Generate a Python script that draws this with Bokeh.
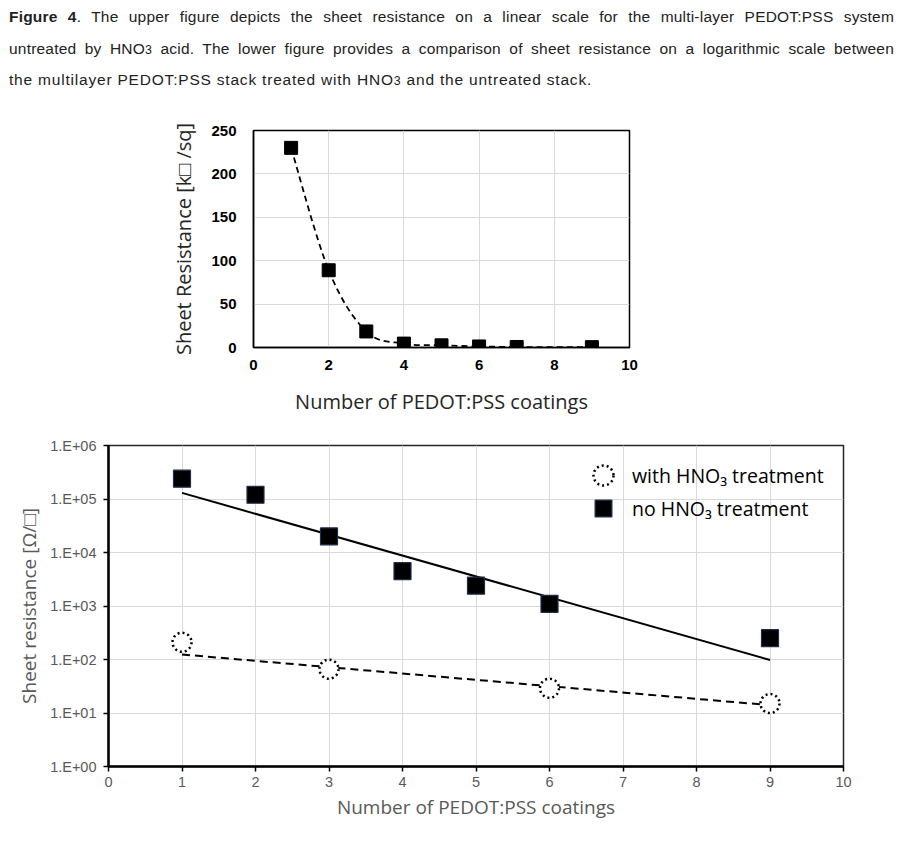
import numpy as np
from bokeh.plotting import figure
from bokeh.models import (Div, Legend, LegendItem, FixedTicker, Range1d,
                          CustomJSTickFormatter, Spacer)
from bokeh.layouts import column, row
from bokeh.embed import file_html
from bokeh.resources import INLINE

# ---------------- data ----------------
# upper panel (linear scale, untreated stack), sheet resistance in kOhm/sq
coats_upper = [1, 2, 3, 4, 5, 6, 7, 9]
rs_upper_k = [230, 89, 18.5, 4.5, 2.5, 1.2, 0.6, 0.4]
upper_xticks = [0, 2, 4, 6, 8, 10]
upper_yticks = [0, 50, 100, 150, 200, 250]

# lower panel (log scale), sheet resistance in Ohm/sq
coats_no = [1, 2, 3, 4, 5, 6, 9]
rs_no = [2.4e5, 1.2e5, 2.0e4, 4.5e3, 2.4e3, 1.1e3, 2.5e2]
coats_with = [1, 3, 6, 9]
rs_with = [210, 66, 29, 15]
# exponential trend lines (end points)
trend_no_x = [1, 9]
trend_no_y = [1.3e5, 98]
trend_with_x = [1, 9]
trend_with_y = [124, 14]
lower_xticks = [0, 1, 2, 3, 4, 5, 6, 7, 8, 9, 10]
lower_yticks = [1, 10, 100, 1e3, 1e4, 1e5, 1e6]

label_no = "no HNO\u2083 treatment"
label_with = "with HNO\u2083 treatment"

GRID = "#d9d9d9"
GRAY = "#595959"

# ---------------- caption ----------------
line_style = ("text-align:justify; text-align-last:justify; letter-spacing:0.2px; "
              "height:31.5px; line-height:31.5px; white-space:normal;")
caption_html = f"""
<div style="font-family:'Liberation Sans',Arial,sans-serif;
            font-size:15.5px; color:#222; width:885px; margin-top:1px; margin-left:9px;">
  <div style="{line_style}"><b>Figure 4</b>. The upper figure depicts the sheet resistance on a linear scale for the multi-layer PEDOT:PSS system</div>
  <div style="{line_style}">untreated by HNO<span style="font-size:80%">3</span> acid. The lower figure provides a comparison of sheet resistance on a logarithmic scale between</div>
  <div style="height:31.5px; line-height:31.5px; letter-spacing:0.8px;">the multilayer PEDOT:PSS stack treated with HNO<span style="font-size:80%">3</span> and the untreated stack.</div>
</div>
"""
caption = Div(text=caption_html, width=900, height=100, margin=(0, 0, 0, 0))

# ---------------- upper figure ----------------
p1 = figure(frame_width=376, frame_height=217,
            min_border_left=108, min_border_right=45,
            min_border_top=30, min_border_bottom=78,
            x_range=Range1d(0, 10), y_range=Range1d(0, 250),
            output_backend="svg", toolbar_location=None)
p1.background_fill_color = "white"
p1.border_fill_color = "white"
p1.outline_line_color = "black"
p1.outline_line_width = 1.5

for ax in (p1.xaxis[0], p1.yaxis[0]):
    ax.axis_line_color = "black"
    ax.axis_line_width = 1.5
    ax.major_tick_line_color = None
    ax.major_tick_in = 0
    ax.major_tick_out = 0
    ax.minor_tick_line_color = None
    ax.major_label_text_font = "Liberation Sans"
    ax.major_label_text_font_style = "bold"
    ax.major_label_text_font_size = "15px"
    ax.major_label_text_color = "black"
    ax.axis_label_text_font = "Open Sans"
    ax.axis_label_text_font_style = "normal"
    ax.axis_label_text_font_size = "20px"
    ax.axis_label_text_color = "#262626"

p1.xaxis.ticker = FixedTicker(ticks=upper_xticks)
p1.yaxis.ticker = FixedTicker(ticks=upper_yticks)
p1.xaxis.major_label_standoff = 12
p1.yaxis.major_label_standoff = 17
p1.xaxis.axis_label = "Number of PEDOT:PSS coatings"
p1.yaxis.axis_label = "Sheet Resistance [k\u25a1 /sq]"
p1.xaxis.axis_label_standoff = 15
p1.yaxis.axis_label_standoff = 11
p1.xgrid.grid_line_color = GRID
p1.ygrid.grid_line_color = GRID
p1.xgrid.ticker = FixedTicker(ticks=upper_xticks)
p1.ygrid.ticker = FixedTicker(ticks=upper_yticks)

# smoothed dashed connector (Catmull-Rom style Bezier through the data)
xu = np.array(coats_upper, dtype=float)
yu = np.array(rs_upper_k, dtype=float)
n = len(xu)
x0, y0, x1, y1, cx0, cy0, cx1, cy1 = [], [], [], [], [], [], [], []
for i in range(n - 1):
    im = max(i - 1, 0)
    ip2 = min(i + 2, n - 1)
    x0.append(xu[i]); y0.append(yu[i])
    x1.append(xu[i + 1]); y1.append(yu[i + 1])
    cx0.append(xu[i] + (xu[i + 1] - xu[im]) / 6.0)
    cy0.append(yu[i] + (yu[i + 1] - yu[im]) / 6.0)
    cx1.append(xu[i + 1] - (xu[ip2] - xu[i]) / 6.0)
    cy1.append(yu[i + 1] - (yu[ip2] - yu[i]) / 6.0)
p1.bezier(x0=x0, y0=y0, x1=x1, y1=y1, cx0=cx0, cy0=cy0, cx1=cx1, cy1=cy1,
          line_color="black", line_width=1.8, line_dash="6 4")
p1.scatter(coats_upper, rs_upper_k, marker="square", size=13,
           fill_color="black", line_color="black")

# ---------------- lower figure ----------------
p2 = figure(frame_width=735, frame_height=321,
            min_border_left=108, min_border_right=45,
            min_border_top=20, min_border_bottom=59,
            x_range=Range1d(0, 10), y_range=Range1d(1, 1e6),
            y_axis_type="log",
            output_backend="svg", toolbar_location=None)
p2.background_fill_color = "white"
p2.border_fill_color = "white"
p2.outline_line_color = "#262626"
p2.outline_line_width = 1.5

for ax in (p2.xaxis[0], p2.yaxis[0]):
    ax.axis_line_color = "black"
    ax.axis_line_width = 2.5
    ax.major_tick_line_color = "black"
    ax.major_tick_line_width = 1.5
    ax.major_tick_in = 0
    ax.major_tick_out = 5
    ax.minor_tick_line_color = None
    ax.major_label_text_font = "Liberation Sans"
    ax.major_label_text_font_size = "14.5px"
    ax.major_label_text_color = GRAY
    ax.axis_label_text_font = "Open Sans"
    ax.axis_label_text_font_style = "normal"
    ax.axis_label_text_font_size = "19px"
    ax.axis_label_text_color = GRAY

p2.xaxis.ticker = FixedTicker(ticks=lower_xticks)
p2.yaxis.ticker = FixedTicker(ticks=lower_yticks)
p2.yaxis.formatter = CustomJSTickFormatter(code="""
    const e = Math.round(Math.log10(tick));
    const s = String(Math.abs(e)).padStart(2, '0');
    return '1.E' + (e < 0 ? '-' : '+') + s;
""")
p2.xaxis.major_label_standoff = 5
p2.yaxis.major_label_standoff = 7
p2.xaxis.axis_label = "Number of PEDOT:PSS coatings"
p2.yaxis.axis_label = "Sheet resistance [\u03a9/\u25a1]"
p2.xaxis.axis_label_standoff = 4
p2.yaxis.axis_label_standoff = 5
p2.xgrid.grid_line_color = GRID
p2.ygrid.grid_line_color = GRID
p2.xgrid.ticker = FixedTicker(ticks=lower_xticks)
p2.ygrid.ticker = FixedTicker(ticks=lower_yticks)

p2.line(trend_no_x, trend_no_y, line_color="black", line_width=2)
p2.line(trend_with_x, trend_with_y, line_color="black", line_width=2,
        line_dash="8 5")
r_with = p2.scatter(coats_with, rs_with, marker="circle", size=19,
                    fill_color="white", line_color="black", line_width=2.5,
                    line_dash="2 3")
r_no = p2.scatter(coats_no, rs_no, marker="square", size=17,
                  fill_color="black", line_color="#1f2d4d", line_width=1.2)

common = dict(border_line_alpha=0, background_fill_alpha=0, padding=0,
              margin=0, label_text_font="Open Sans",
              label_text_font_size="19.5px", label_text_color="black")
leg1 = Legend(items=[LegendItem(label=label_with, renderers=[r_with])],
              location=(470, 266), glyph_width=50, glyph_height=50,
              label_standoff=4, label_height=50, **common)
leg2 = Legend(items=[LegendItem(label=label_no, renderers=[r_no])],
              location=(474, 237), glyph_width=42, glyph_height=42,
              label_standoff=8, label_height=42, **common)
p2.add_layout(leg1)
p2.add_layout(leg2)

layout = column(caption, row(Spacer(width=145, height=10), p1), p2)
open("out.html", "w").write(file_html(layout, INLINE))
